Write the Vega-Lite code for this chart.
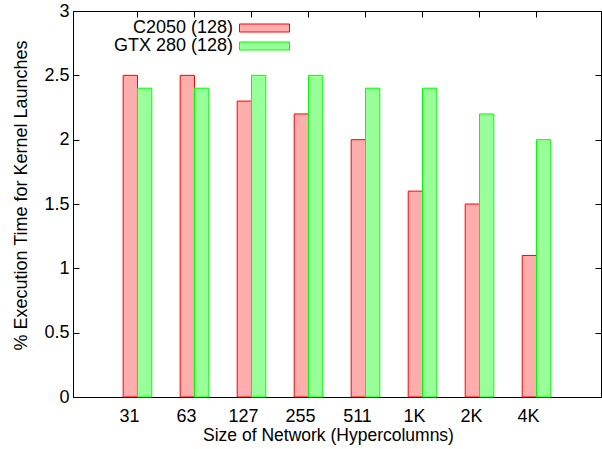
{
  "$schema": "https://vega.github.io/schema/vega-lite/v6.json",
  "width": 528,
  "height": 386,
  "autosize": "none",
  "padding": {"left": 73, "top": 11, "right": 1, "bottom": 52},
  "background": "white",
  "config": {
    "view": {"stroke": "black", "strokeWidth": 1},
    "font": "Liberation Sans",
    "axis": {
      "domain": false,
      "grid": false,
      "labelFont": "Liberation Sans",
      "titleFont": "Liberation Sans",
      "labelColor": "black",
      "titleColor": "black",
      "titleFontWeight": "normal",
      "tickColor": "black"
    }
  },
  "data": {
    "values": [
      {"size": "31", "gpu": "C2050 (128)", "value": 2.5},
      {"size": "31", "gpu": "GTX 280 (128)", "value": 2.4},
      {"size": "63", "gpu": "C2050 (128)", "value": 2.5},
      {"size": "63", "gpu": "GTX 280 (128)", "value": 2.4},
      {"size": "127", "gpu": "C2050 (128)", "value": 2.3},
      {"size": "127", "gpu": "GTX 280 (128)", "value": 2.5},
      {"size": "255", "gpu": "C2050 (128)", "value": 2.2},
      {"size": "255", "gpu": "GTX 280 (128)", "value": 2.5},
      {"size": "511", "gpu": "C2050 (128)", "value": 2.0},
      {"size": "511", "gpu": "GTX 280 (128)", "value": 2.4},
      {"size": "1K", "gpu": "C2050 (128)", "value": 1.6},
      {"size": "1K", "gpu": "GTX 280 (128)", "value": 2.4},
      {"size": "2K", "gpu": "C2050 (128)", "value": 1.5},
      {"size": "2K", "gpu": "GTX 280 (128)", "value": 2.2},
      {"size": "4K", "gpu": "C2050 (128)", "value": 1.1},
      {"size": "4K", "gpu": "GTX 280 (128)", "value": 2.0}
    ]
  },
  "layer": [
    {
      "mark": {"type": "bar", "strokeWidth": 1},
      "encoding": {
        "x": {
          "field": "size",
          "type": "nominal",
          "sort": null,
          "scale": {"paddingInner": 0.498, "paddingOuter": 0.88},
          "axis": {
            "orient": "bottom",
            "labelAngle": 0,
            "labelFontSize": 18,
            "labelOffset": -8,
            "ticks": false,
            "labelPadding": 10,
            "title": "Size of Network (Hypercolumns)",
            "titleFontSize": 17.5,
            "titleX": 255,
            "titleY": 43,
            "titleBaseline": "alphabetic",
            "titleAnchor": null
          }
        },
        "xOffset": {
          "field": "gpu",
          "type": "nominal",
          "sort": null,
          "scale": {"paddingInner": 0, "paddingOuter": 0}
        },
        "y": {
          "field": "value",
          "type": "quantitative",
          "scale": {"domain": [0, 3], "nice": false},
          "axis": {
            "orient": "left",
            "values": [0, 0.5, 1, 1.5, 2, 2.5, 3],
            "format": "~g",
            "labelFontSize": 18,
            "tickSize": -6,
            "labelPadding": 10,
            "title": "% Execution Time for Kernel Launches",
            "titleFontSize": 18,
            "titleX": -52,
            "titleY": 184,
            "titleBaseline": "middle",
            "titleAnchor": null
          }
        },
        "fill": {
          "field": "gpu",
          "type": "nominal",
          "sort": null,
          "scale": {"range": ["#ffadad", "#99ff99"]},
          "legend": {
            "orient": "none",
            "legendX": 182.5,
            "legendY": 8,
            "title": null,
            "symbolType": "M-5,-0.8H5V0.8H-5Z",
            "symbolSize": 100,
            "symbolStrokeWidth": 1,
            "labelFontSize": 18,
            "labelAlign": "right",
            "labelOffset": -40.5,
            "rowPadding": -1,
            "padding": 0,
            "labelColor": "black"
          }
        },
        "stroke": {
          "field": "gpu",
          "type": "nominal",
          "sort": null,
          "scale": {"range": ["#ff0000", "#00ff00"]},
          "legend": {
            "orient": "none",
            "legendX": 182.5,
            "legendY": 8,
            "title": null,
            "symbolType": "M-5,-0.8H5V0.8H-5Z",
            "symbolSize": 100,
            "symbolStrokeWidth": 1,
            "labelFontSize": 18,
            "labelAlign": "right",
            "labelOffset": -40.5,
            "rowPadding": -1,
            "padding": 0,
            "labelColor": "black"
          }
        }
      }
    },
    {
      "mark": {"type": "bar", "opacity": 0},
      "encoding": {
        "x": {
          "field": "size",
          "type": "nominal",
          "sort": null,
          "axis": {"orient": "top", "labels": false, "tickSize": -6, "title": null}
        },
        "y": {
          "field": "value",
          "type": "quantitative",
          "axis": {
            "orient": "right",
            "labels": false,
            "values": [0, 0.5, 1, 1.5, 2, 2.5, 3],
            "tickSize": -6,
            "title": null
          }
        }
      }
    }
  ],
  "resolve": {"axis": {"x": "independent", "y": "independent"}}
}
